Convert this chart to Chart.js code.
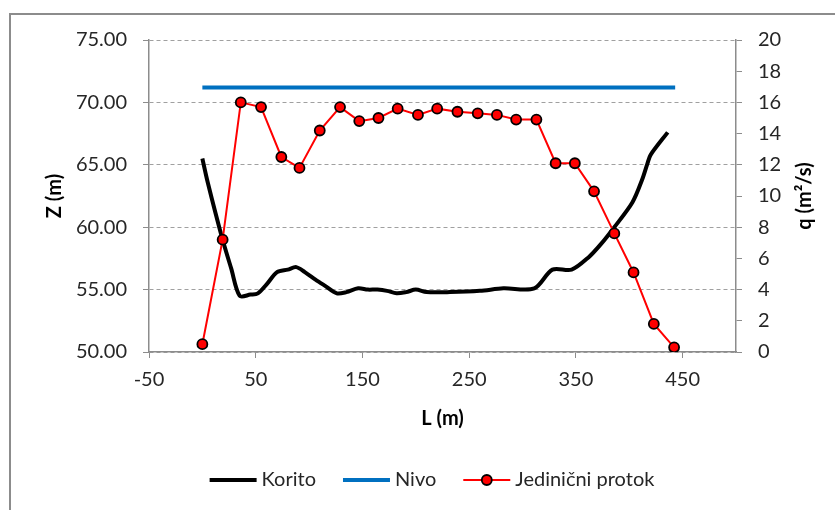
<!DOCTYPE html>
<html>
<head>
<meta charset="utf-8">
<script src="https://cdn.jsdelivr.net/npm/chart.js@4.4.1/dist/chart.umd.min.js"></script>
<style>
  body { margin: 0; background: #fff; }
  #wrap { position: relative; width: 835px; height: 510px; overflow: hidden; }
  #frame { position: absolute; left: 9px; top: 13px; width: 900px; height: 600px; border: 2px solid #8c8c8c; }
  canvas { position: absolute; left: 0; top: 0; }
</style>
</head>
<body>
<div id="wrap">
  <div id="frame"></div>
  <canvas id="myChart" width="835" height="510"></canvas>
</div>
<script>
// Korito (terrain profile)
const lKorito = [0, 5, 18, 27, 35, 45, 52, 60, 70, 80, 88, 96, 106, 115, 126, 135, 146, 155, 164, 173, 182, 191, 200, 210, 232, 260, 282, 311, 328, 346, 362, 373, 386, 403, 412, 417, 420, 436]
const zKorito = [65.5, 63.6, 59.3, 56.7, 54.5, 54.6, 54.7, 55.4, 56.4, 56.6, 56.8, 56.4, 55.8, 55.3, 54.7, 54.8, 55.1, 55.0, 55.0, 54.9, 54.7, 54.8, 55.0, 54.8, 54.8, 54.9, 55.1, 55.1, 56.6, 56.6, 57.6, 58.6, 60.0, 62.0, 63.8, 65.1, 65.8, 67.6]

// Nivo (water level)
const lNivo = [0, 443]
const zNivo = [71.2, 71.2]

// Jedinicni protok (unit discharge)
const lProtok = [0, 19, 36, 55, 74, 91, 110, 129, 147, 165, 183, 202, 220, 239, 258, 276, 294, 313, 331, 349, 367, 386, 404, 423, 442]
const qProtok = [0.5, 7.2, 16.0, 15.7, 12.5, 11.8, 14.2, 15.7, 14.8, 15.0, 15.6, 15.2, 15.6, 15.4, 15.3, 15.2, 14.9, 14.9, 12.1, 12.1, 10.3, 7.6, 5.1, 1.8, 0.3]

const xTicks = [-50, 50, 150, 250, 350, 450]

function pts(xs, ys){
  return xs.map((x, i) => ({x: x, y: ys[i]}))
}

const FONT = "Lato, 'Open Sans', sans-serif"
const AXIS = '#8c8c8c'
const TXT = '#262626'

// axis titles + legend drawn by hand
const extras = {
  id: 'extras',
  afterDraw(chart){
    const ctx = chart.ctx
    const area = chart.chartArea
    ctx.save()
    ctx.fillStyle = '#000'
    ctx.font = 'bold 20px ' + FONT
    ctx.textAlign = 'center'
    ctx.textBaseline = 'middle'
    let midY = (area.top + area.bottom) / 2
    ctx.save(); ctx.translate(55, midY); ctx.rotate(-Math.PI/2); ctx.fillText('Z (m)', 0, 0); ctx.restore()
    ctx.save(); ctx.translate(805, midY); ctx.rotate(-Math.PI/2); ctx.fillText('q (m\u00B2/s)', 0, 0); ctx.restore()
    ctx.fillText('L (m)', (area.left + area.right) / 2, 419)

    // legend
    ctx.font = '20px ' + FONT
    ctx.fillStyle = TXT
    ctx.textAlign = 'left'
    let ds = chart.data.datasets
    let sample = 47, gap = 5, spacing = 27
    let widths = ds.map(d => sample + gap + ctx.measureText(d.label).width)
    let total = widths.reduce((a, b) => a + b, 0) + spacing * (ds.length - 1)
    let x = 432 - total / 2
    let y = 480
    ds.forEach((d, i) => {
      ctx.strokeStyle = d.borderColor
      ctx.lineWidth = d.borderWidth
      ctx.beginPath(); ctx.moveTo(x, y); ctx.lineTo(x + sample, y); ctx.stroke()
      if (d.pointRadius > 0) {
        ctx.fillStyle = d.pointBackgroundColor
        ctx.strokeStyle = d.pointBorderColor
        ctx.lineWidth = d.pointBorderWidth
        ctx.beginPath(); ctx.arc(x + sample / 2, y, d.pointRadius, 0, Math.PI * 2); ctx.fill(); ctx.stroke()
      }
      ctx.fillStyle = TXT
      ctx.fillText(d.label, x + sample + gap, y)
      x += widths[i] + spacing
    })
    ctx.restore()
  }
}

var ctx = document.getElementById('myChart').getContext('2d')
var myChart = new Chart(ctx, {
  type: 'line',
  data: {
    datasets: [{
      label: 'Korito',
      data: pts(lKorito, zKorito),
      borderColor: '#000000',
      borderWidth: 4,
      pointRadius: 0,
      tension: 0.3,
      yAxisID: 'y',
      order: 2
    }, {
      label: 'Nivo',
      data: pts(lNivo, zNivo),
      borderColor: '#0070C0',
      borderWidth: 4,
      pointRadius: 0,
      yAxisID: 'y',
      order: 3
    }, {
      label: 'Jedini\u010Dni protok',
      data: pts(lProtok, qProtok),
      borderColor: '#FF0000',
      borderWidth: 2,
      pointRadius: 5,
      pointBackgroundColor: '#FF0000',
      pointBorderColor: '#000000',
      pointBorderWidth: 1.8,
      yAxisID: 'y1',
      order: 1
    }]
  },
  options: {
    responsive: false,
    animation: false,
    layout: { padding: { top: 40, left: 0, right: 0, bottom: 0 } },
    plugins: { legend: { display: false }, tooltip: { enabled: false } },
    scales: {
      x: {
        type: 'linear',
        min: -50,
        max: 500,
        afterBuildTicks: s => { s.ticks = xTicks.map(v => ({value: v})) },
        afterFit: s => { s.height = 158 },
        grid: { drawOnChartArea: false, color: AXIS, tickLength: 6 },
        border: { color: AXIS, width: 1.5 },
        ticks: { color: TXT, font: { family: FONT, size: 20 }, padding: 10, maxRotation: 0 }
      },
      y: {
        position: 'left',
        min: 50,
        max: 75,
        afterFit: s => { s.width = 149 },
        grid: { color: '#a0a0a0', tickColor: AXIS, tickLength: 6, tickBorderDash: [] },
        border: { color: AXIS, width: 1.5, dash: [4, 3] },
        ticks: { stepSize: 5, color: TXT, font: { family: FONT, size: 20 }, padding: 16,
          callback: v => v.toFixed(2) }
      },
      y1: {
        position: 'right',
        min: 0,
        max: 20,
        afterFit: s => { s.width = 99 },
        grid: { drawOnChartArea: false, color: AXIS, tickLength: 6 },
        border: { color: AXIS, width: 1.5 },
        ticks: { stepSize: 2, color: TXT, font: { family: FONT, size: 20 }, padding: 16 }
      }
    }
  },
  plugins: [extras]
})
</script>
</body>
</html>
